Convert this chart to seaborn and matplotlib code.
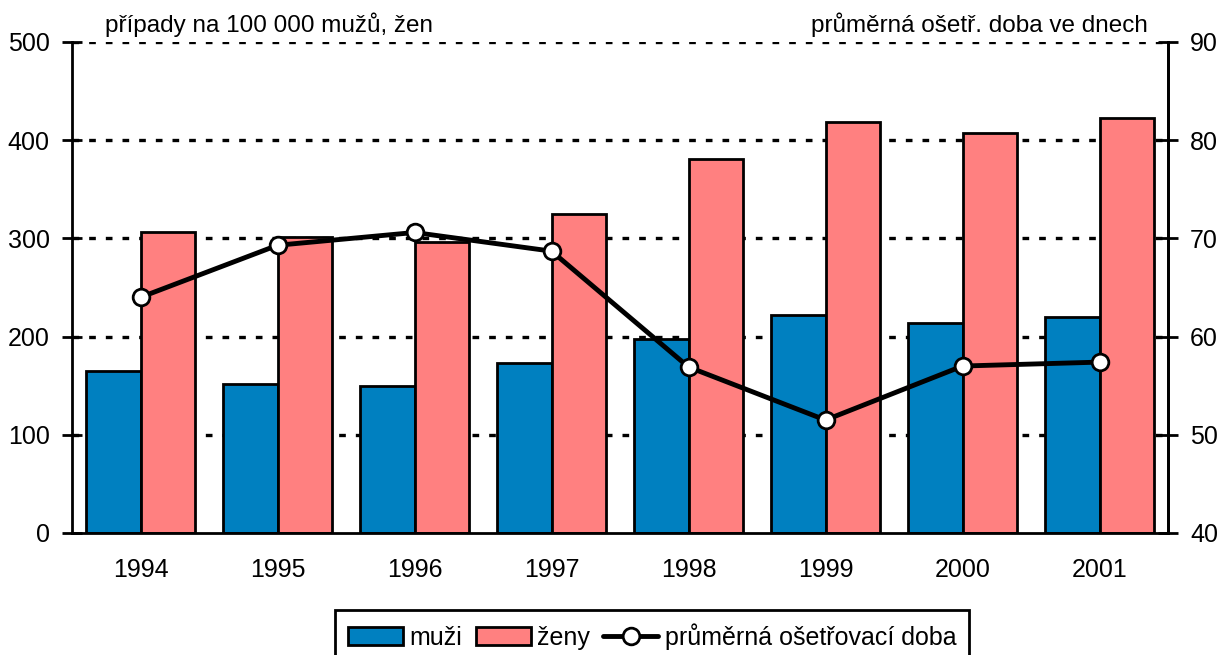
import seaborn as sns
import matplotlib.pyplot as plt
import pandas as pd
from matplotlib.patches import Patch
from matplotlib.lines import Line2D

sns.set_style("white")
plt.rcParams['font.family'] = ['Liberation Sans', 'DejaVu Sans']
plt.rcParams.update({"text.color": "black", "xtick.color": "black",
                     "ytick.color": "black", "axes.edgecolor": "black"})

# Data
years = ["1994", "1995", "1996", "1997", "1998", "1999", "2000", "2001"]
muzi = [165, 152, 150, 173, 198, 222, 214, 220]
zeny = [306, 301, 296, 325, 381, 419, 407, 423]
doba = [64.0, 69.3, 70.6, 68.7, 56.9, 51.5, 57.0, 57.4]

df = pd.DataFrame({
    "rok": years * 2,
    "hodnota": muzi + zeny,
    "pohlaví": ["muži"] * len(years) + ["ženy"] * len(years),
})

fig = plt.figure(figsize=(12.21, 6.55), dpi=100)
ax = fig.add_axes([0.059, 0.1863, 0.8976, 0.7496])

sns.barplot(data=df, x="rok", y="hodnota", hue="pohlaví",
            palette=["#0080c0", "#ff8080"], edgecolor="black", linewidth=2,
            width=0.8, gap=0, saturation=1, ax=ax, legend=False, zorder=2)

ax.set_xlim(-0.5, len(years) - 0.5)
ax.set_ylim(0, 500)
ax.set_yticks(range(0, 501, 100))
ax.set_xlabel("")
ax.set_ylabel("")
for v in range(100, 501, 100):
    ax.axhline(v, color="black", linestyle=(0, (2, 3)), linewidth=2.4, zorder=1)

ax.spines["top"].set_visible(False)
for s in ["left", "bottom", "right"]:
    ax.spines[s].set_linewidth(2)
ax.tick_params(axis="y", direction="inout", length=14, width=2, labelsize=18, pad=9)
ax.tick_params(axis="x", length=0, labelsize=18, pad=18)

ax2 = ax.twinx()
ax2.plot(range(len(years)), doba, color="black", linewidth=3.5, marker="o",
         markersize=12, markerfacecolor="white", markeredgecolor="black",
         markeredgewidth=2, zorder=5)
ax2.set_ylim(40, 90)
ax2.set_yticks(range(40, 91, 10))
ax2.spines["top"].set_visible(False)
ax2.spines["left"].set_visible(False)
ax2.spines["bottom"].set_visible(False)
ax2.spines["right"].set_linewidth(2)
ax2.tick_params(axis="y", direction="inout", length=14, width=2, labelsize=18, pad=9)

fig.text(0.086, 0.943, "případy na 100 000 mužů, žen", fontsize=17.5,
         ha="left", va="bottom")
fig.text(0.94, 0.943, "průměrná ošetř. doba ve dnech", fontsize=17.5,
         ha="right", va="bottom")

handles = [
    Patch(facecolor="#0080c0", edgecolor="black", linewidth=2),
    Patch(facecolor="#ff8080", edgecolor="black", linewidth=2),
    Line2D([0], [0], color="black", linewidth=3.5, marker="o", markersize=12,
           markerfacecolor="white", markeredgecolor="black", markeredgewidth=2),
]
leg = fig.legend(handles, ["muži", "ženy", "průměrná ošetřovací doba"],
                 loc="lower center", bbox_to_anchor=(0.534, -0.03), ncol=3,
                 fontsize=18, frameon=True, fancybox=False, edgecolor="black",
                 handlelength=2.2, handletextpad=0.25, columnspacing=0.55,
                 borderpad=0.5, framealpha=1)
leg.get_frame().set_linewidth(2)
leg.get_frame().set_edgecolor("black")

fig.savefig("out.png", dpi=100)
plt.close()
